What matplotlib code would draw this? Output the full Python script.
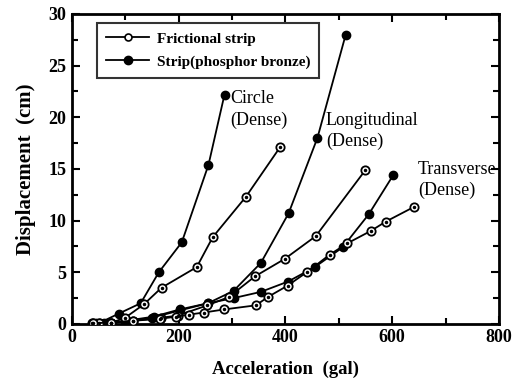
import matplotlib
matplotlib.use('Agg')
import matplotlib.pyplot as plt
from matplotlib.lines import Line2D
from matplotlib.ticker import MultipleLocator

plt.rcParams['font.family'] = ['Liberation Serif', 'DejaVu Serif']

# circle arrangement (dense)
circ_strip_x = [40, 52, 88, 129, 163, 206, 256, 286]
circ_strip_y = [0.1, 0.1, 1.0, 2.0, 5.0, 7.9, 15.4, 22.2]
circ_fric_x = [38, 73, 100, 135, 168, 234, 264, 326, 390]
circ_fric_y = [0.1, 0.1, 0.6, 1.9, 3.5, 5.5, 8.4, 12.3, 17.1]

# longitudinal arrangement (dense)
long_strip_x = [45, 60, 101, 153, 202, 255, 303, 354, 406, 460, 513]
long_strip_y = [0.1, 0.1, 0.3, 0.7, 1.4, 2.0, 3.2, 5.9, 10.7, 18.0, 28.0]
long_fric_x = [50, 73, 114, 167, 198, 254, 294, 343, 399, 457, 550]
long_fric_y = [0.1, 0.1, 0.3, 0.6, 0.8, 1.8, 2.6, 4.6, 6.3, 8.5, 14.9]

# transverse arrangement (dense)
tran_strip_x = [50, 100, 150, 202, 255, 303, 354, 405, 455, 507, 556, 602]
tran_strip_y = [0.1, 0.2, 0.6, 1.3, 2.0, 2.5, 3.1, 4.1, 5.5, 7.4, 10.6, 14.4]
tran_fric_x = [40, 73, 114, 166, 195, 219, 247, 285, 345, 367, 404, 440, 483, 516, 560, 588, 640]
tran_fric_y = [0.1, 0.1, 0.3, 0.5, 0.7, 0.9, 1.1, 1.4, 1.8, 2.6, 3.7, 5.0, 6.7, 7.8, 9.0, 9.9, 11.3]

labels = ['Frictional strip', 'Strip(phosphor bronze)']

fig = plt.figure(figsize=(5.28, 3.87), dpi=100)
ax = fig.add_axes([0.136, 0.163, 0.809, 0.801])


def plot_strip(x, y):
    ax.plot(x, y, '-', color='black', lw=1.3, marker='o', ms=6,
            mfc='black', mec='black', zorder=3)


def plot_fric(x, y):
    ax.plot(x, y, '-', color='black', lw=1.3, marker='o', ms=6,
            mfc='white', mec='black', mew=1.3, zorder=4)
    ax.plot(x, y, ls='none', marker='o', ms=1.5, mfc='black', mec='black', zorder=5)


plot_strip(circ_strip_x, circ_strip_y)
plot_fric(circ_fric_x, circ_fric_y)
plot_strip(long_strip_x, long_strip_y)
plot_fric(long_fric_x, long_fric_y)
plot_strip(tran_strip_x, tran_strip_y)
plot_fric(tran_fric_x, tran_fric_y)

ax.set_xlim(0, 800)
ax.set_ylim(0, 30)
ax.xaxis.set_major_locator(MultipleLocator(200))
ax.xaxis.set_minor_locator(MultipleLocator(100))
ax.yaxis.set_major_locator(MultipleLocator(5))
ax.yaxis.set_minor_locator(MultipleLocator(2.5))
ax.tick_params(which='both', direction='in', top=True, right=True, width=1.5)
ax.tick_params(which='major', length=6, labelsize=13, pad=4)
ax.tick_params(which='minor', length=4)
for lab in ax.get_xticklabels() + ax.get_yticklabels():
    lab.set_fontweight('bold')
for sp in ax.spines.values():
    sp.set_linewidth(2)

ax.set_xlabel('Acceleration  (gal)', fontsize=13.5, fontweight='bold', labelpad=10)
ax.set_ylabel('Displacement  (cm)', fontsize=15, fontweight='bold', labelpad=9)

txt = dict(fontsize=13, va='top', ha='left', linespacing=1.3)
ax.text(297, 22.6, 'Circle\n(Dense)', **txt)
ax.text(476, 20.5, 'Longitudinal\n(Dense)', **txt)
ax.text(648, 15.8, 'Transverse\n(Dense)', **txt)

handles = [
    Line2D([], [], color='black', lw=1.3, marker='o', ms=5, mfc='white', mec='black', mew=1.2),
    Line2D([], [], color='black', lw=1.3, marker='o', ms=6, mfc='black', mec='black'),
]
leg = ax.legend(handles, labels, loc='upper left', bbox_to_anchor=(0.059, 0.971),
                borderaxespad=0, fontsize=11, frameon=True, fancybox=False,
                handlelength=2.8, handletextpad=0.5, borderpad=0.6, labelspacing=0.6)
leg.get_frame().set_edgecolor('black')
leg.get_frame().set_linewidth(1.5)
for t in leg.get_texts():
    t.set_fontweight('bold')

fig.savefig('out.png', dpi=100)
